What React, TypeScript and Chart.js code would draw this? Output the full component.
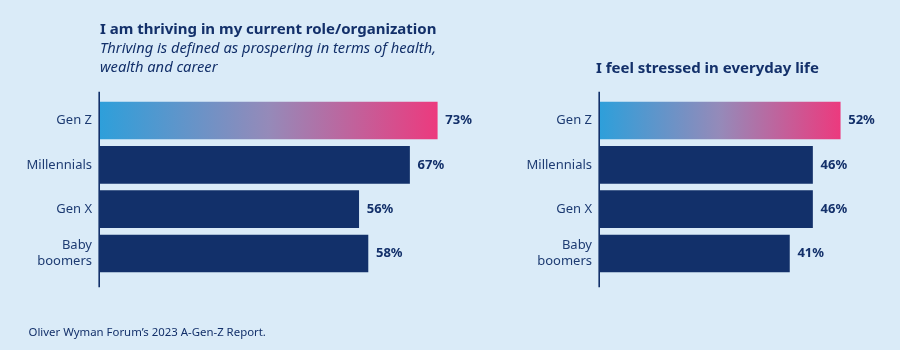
import React, { useEffect, useRef } from 'react';
import { Chart, registerables } from 'chart.js';

Chart.register(...registerables);

const categories: (string | string[])[] = ['Gen Z', 'Millennials', 'Gen X', ['Baby', 'boomers']];
const thrivingValues = [73, 67, 56, 58];
const stressedValues = [52, 46, 46, 41];
const thrivingTitle = 'I am thriving in my current role/organization';
const thrivingSubtitle = ['Thriving is defined as prospering in terms of health,', 'wealth and career'];
const stressedTitle = 'I feel stressed in everyday life';
const sourceNote = 'Oliver Wyman Forum\u2019s 2023 A-Gen-Z Report.';

const BG = '#daebf8';
const NAVY = '#12306a';
const TEXT = '#13306a';
const LABEL = '#1d3b72';
const FONT = '"Noto Sans", "Open Sans", sans-serif';

const valueLabelPlugin = {
  id: 'valueLabels',
  afterDatasetsDraw(chart: any) {
    const ctx = chart.ctx;
    const meta = chart.getDatasetMeta(0);
    const data = chart.data.datasets[0].data as number[];
    ctx.save();
    ctx.font = `bold 13px ${FONT}`;
    ctx.fillStyle = TEXT;
    ctx.textBaseline = 'middle';
    ctx.textAlign = 'left';
    meta.data.forEach((bar: any, i: number) => {
      ctx.fillText(`${data[i]}%`, bar.x + 8, bar.y);
    });
    ctx.restore();
  },
};

const axisLinePlugin = {
  id: 'axisLine',
  afterDatasetsDraw(chart: any) {
    const { ctx, chartArea } = chart;
    ctx.save();
    ctx.strokeStyle = NAVY;
    ctx.lineWidth = 1.6;
    ctx.beginPath();
    ctx.moveTo(chartArea.left - 0.8, chartArea.top - 6.5);
    ctx.lineTo(chartArea.left - 0.8, chartArea.bottom + 11.5);
    ctx.stroke();
    ctx.restore();
  },
};

function makeConfig(values: number[], xMax: number, padRight: number): any {
  return {
    type: 'bar',
    data: {
      labels: categories,
      datasets: [
        {
          data: values,
          borderWidth: 0,
          barThickness: 37,
          backgroundColor: (c: any) => {
            const chart = c.chart;
            const area = chart.chartArea;
            if (c.dataIndex !== 0 || !area) return NAVY;
            const xScale = chart.scales.x;
            const end = xScale.getPixelForValue(values[0]);
            const g = chart.ctx.createLinearGradient(area.left, 0, end, 0);
            g.addColorStop(0, '#2e9fda');
            g.addColorStop(0.5, '#958ab9');
            g.addColorStop(1, '#ec3a7e');
            return g;
          },
        },
      ],
    },
    options: {
      indexAxis: 'y',
      responsive: false,
      animation: false,
      devicePixelRatio: 1,
      layout: { padding: { top: 98.3, bottom: 74.3, left: 0, right: padRight } },
      plugins: {
        legend: { display: false },
        tooltip: { enabled: false },
        title: { display: false },
      },
      scales: {
        x: {
          display: false,
          min: 0,
          max: xMax,
          grid: { display: false },
        },
        y: {
          afterFit: (scale: any) => {
            scale.width = 100;
          },
          grid: { display: false, drawTicks: false },
          border: { display: false },
          ticks: {
            padding: 8,
            color: LABEL,
            font: { family: FONT, size: 13, lineHeight: 1.2 },
          },
        },
      },
    },
    plugins: [axisLinePlugin, valueLabelPlugin],
  };
}

export default function App() {
  const leftRef = useRef<HTMLCanvasElement | null>(null);
  const rightRef = useRef<HTMLCanvasElement | null>(null);

  useEffect(() => {
    document.body.style.margin = '0';
    const left = new Chart(leftRef.current!, makeConfig(thrivingValues, 80, 30.4));
    const right = new Chart(rightRef.current!, makeConfig(stressedValues, 60, 22.8));
    return () => {
      left.destroy();
      right.destroy();
    };
  }, []);

  const titleStyle: React.CSSProperties = {
    position: 'absolute',
    fontFamily: FONT,
    fontWeight: 700,
    fontSize: 15,
    lineHeight: '20px',
    color: TEXT,
    whiteSpace: 'nowrap',
    margin: 0,
  };

  return (
    <div
      style={{
        position: 'absolute',
        left: 0,
        top: 0,
        width: 900,
        height: 350,
        background: BG,
        overflow: 'hidden',
      }}
    >
      <canvas
        ref={leftRef}
        width={500}
        height={350}
        style={{ position: 'absolute', left: 0, top: 0, width: 500, height: 350 }}
      />
      <canvas
        ref={rightRef}
        width={400}
        height={350}
        style={{ position: 'absolute', left: 500, top: 0, width: 400, height: 350 }}
      />
      <div style={{ ...titleStyle, left: 100, top: 18 }}>{thrivingTitle}</div>
      <div
        style={{
          ...titleStyle,
          fontWeight: 400,
          fontStyle: 'italic',
          fontSize: 14.7,
          lineHeight: '19.5px',
          left: 100,
          top: 37.6,
        }}
      >
        {thrivingSubtitle.map((t, i) => (
          <div key={i}>{t}</div>
        ))}
      </div>
      <div style={{ ...titleStyle, left: 596, top: 57 }}>{stressedTitle}</div>
      <div
        style={{
          ...titleStyle,
          fontWeight: 400,
          fontSize: 11.4,
          lineHeight: '16px',
          left: 28.5,
          top: 323.5,
        }}
      >
        {sourceNote}
      </div>
    </div>
  );
}
